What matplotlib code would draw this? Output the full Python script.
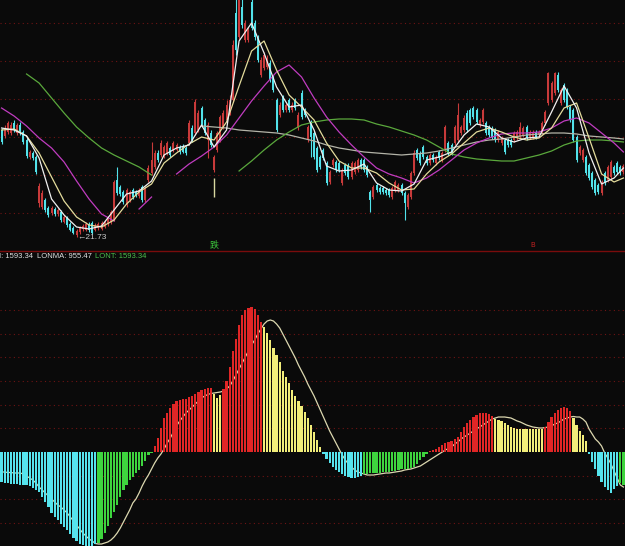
import numpy as np
import matplotlib.pyplot as plt
from matplotlib.lines import Line2D

nan = np.nan

# daily candles, 200 sessions
opens = [27.08, 26.78, 26.98, 26.93, 27.43, 26.93, 27.33, 26.98, 26.58, 25.73,
         25.93, 25.73, 23.43, 23.23, 23.58, 23.18, 22.93, 23.13, 22.88, 22.98,
         22.48, 22.68, 22.38, 22.18, 21.83, 21.98, 22.13, 22.08, 22.38, 22.43,
         22.08, 22.18, 22.13, 22.23, 22.38, 22.48, 22.58, 24.58, 24.23, 23.98,
         23.33, 23.58, 24.08, 23.98, 23.78, 24.23, 23.58, 24.58, 24.93, 25.23,
         25.93, 25.83, 25.73, 25.93, 26.18, 26.08, 26.08, 26.23, 26.28, 26.18,
         26.43, 27.18, 26.93, 27.08, 28.18, 27.58, 26.58, 26.93, 25.08, 26.08,
         26.58, 27.23, 27.58, 27.93, 28.58, 32.93, 31.73, 33.23, 31.58, 31.58,
         33.48, 32.43, 31.73, 29.83, 30.18, 30.23, 30.43, 29.73, 28.58, 27.83,
         28.73, 28.08, 28.58, 28.08, 28.58, 27.18, 28.93, 28.08, 26.58, 27.48,
         26.93, 26.18, 25.73, 26.08, 25.43, 24.48, 25.33, 25.48, 25.43, 24.43,
         25.33, 25.33, 24.73, 24.98, 25.08, 25.58, 25.58, 25.23, 23.98, 23.73,
         24.33, 24.18, 24.18, 24.08, 24.08, 23.73, 24.08, 24.08, 24.33, 23.93,
         23.23, 23.73, 24.93, 26.08, 25.93, 26.23, 25.73, 25.43, 25.83, 25.43,
         25.98, 25.58, 26.08, 26.43, 26.33, 26.43, 26.58, 26.93, 27.08, 27.93,
         28.08, 28.18, 28.08, 27.33, 27.48, 27.43, 27.23, 27.18, 27.08, 26.58,
         26.43, 26.58, 26.58, 26.58, 26.58, 26.68, 26.73, 26.83, 27.23, 26.73,
         26.73, 26.98, 26.83, 26.98, 27.43, 28.43, 28.58, 28.93, 29.83, 28.43,
         29.33, 29.08, 28.23, 28.08, 26.73, 25.93, 25.58, 25.73, 25.33, 24.93,
         24.58, 24.33, 23.93, 24.93, 24.58, 24.73, 25.23, 25.43, 25.23, 24.98]
highs = [27.18, 27.33, 27.53, 27.48, 27.58, 27.43, 27.48, 27.08, 26.68, 26.08,
         26.03, 25.83, 24.43, 24.08, 23.68, 23.28, 23.28, 23.23, 23.18, 23.08,
         22.83, 22.78, 22.48, 22.28, 22.13, 22.28, 22.38, 22.48, 22.48, 22.53,
         22.43, 22.48, 22.53, 22.58, 22.78, 23.08, 24.58, 25.23, 24.33, 24.08,
         24.18, 24.08, 24.18, 24.08, 24.18, 24.33, 24.28, 25.33, 26.48, 26.08,
         26.08, 26.58, 26.33, 26.53, 26.28, 26.53, 26.43, 26.33, 26.38, 26.28,
         27.58, 27.33, 28.63, 28.08, 28.28, 27.68, 27.48, 27.08, 25.83, 27.03,
         27.83, 28.08, 28.58, 28.83, 31.58, 34.08, 34.33, 33.83, 32.58, 32.23,
         34.08, 32.58, 31.83, 30.73, 30.98, 30.83, 30.58, 29.83, 28.68, 28.48,
         28.83, 28.43, 28.68, 28.48, 28.68, 27.98, 29.08, 28.18, 27.33, 27.58,
         27.03, 26.28, 25.83, 26.18, 25.53, 25.08, 25.68, 25.58, 25.53, 25.18,
         25.43, 25.43, 25.53, 25.53, 25.68, 25.68, 25.68, 25.33, 24.08, 24.33,
         24.43, 24.28, 24.28, 24.18, 24.18, 24.28, 24.58, 24.43, 24.43, 24.03,
         23.93, 25.03, 26.08, 26.18, 26.03, 26.33, 25.83, 25.93, 25.93, 25.83,
         26.08, 26.03, 27.33, 26.53, 26.43, 27.33, 28.43, 27.33, 27.83, 28.08,
         28.18, 28.28, 28.18, 27.68, 28.18, 27.53, 27.33, 27.28, 27.18, 27.08,
         26.78, 26.68, 26.68, 26.68, 27.03, 27.08, 27.48, 27.28, 27.33, 27.08,
         27.08, 27.08, 27.08, 27.53, 28.08, 29.98, 29.53, 29.98, 29.98, 29.18,
         29.43, 29.18, 28.33, 28.18, 26.83, 26.33, 26.18, 25.83, 25.43, 25.03,
         24.68, 24.43, 24.58, 25.03, 25.33, 25.58, 25.33, 25.53, 25.33, 25.38]
lows = [26.38, 26.68, 26.88, 26.83, 26.98, 26.83, 26.83, 26.38, 25.68, 25.63,
        25.58, 24.88, 23.23, 23.13, 22.98, 22.73, 22.83, 22.78, 22.78, 22.48,
        22.43, 22.23, 22.03, 21.88, 21.73, 21.88, 22.03, 22.03, 21.98, 21.88,
        22.03, 22.08, 22.08, 22.18, 22.28, 22.38, 22.53, 23.83, 23.78, 23.38,
        23.23, 23.48, 23.63, 23.73, 23.68, 23.48, 23.48, 24.48, 24.83, 25.13,
        25.48, 25.73, 25.68, 25.83, 25.73, 25.98, 26.03, 25.88, 25.93, 25.83,
        26.33, 26.48, 26.83, 26.98, 27.23, 26.83, 25.68, 26.23, 24.98, 25.98,
        26.48, 27.13, 27.48, 27.83, 28.48, 30.83, 31.58, 32.18, 31.48, 31.48,
        32.08, 31.58, 30.48, 29.73, 30.08, 30.13, 29.48, 28.98, 26.98, 27.73,
        27.98, 27.98, 27.98, 27.98, 28.08, 27.08, 27.63, 27.73, 26.48, 25.73,
        25.63, 24.98, 25.13, 25.58, 24.33, 24.38, 25.23, 24.98, 24.98, 24.33,
        24.83, 24.63, 24.63, 24.88, 24.98, 25.13, 24.98, 24.73, 22.98, 23.63,
        23.98, 23.88, 23.88, 23.83, 23.73, 23.63, 23.98, 23.98, 23.83, 22.58,
        23.13, 23.63, 24.83, 25.58, 25.33, 25.63, 25.33, 25.33, 25.48, 25.33,
        25.58, 25.48, 25.98, 25.83, 25.83, 26.33, 26.48, 26.83, 26.98, 26.98,
        27.33, 27.63, 27.38, 27.23, 27.38, 26.83, 26.73, 26.63, 26.48, 26.48,
        26.33, 25.88, 26.23, 26.23, 26.48, 26.58, 26.63, 26.73, 26.58, 26.63,
        26.63, 26.63, 26.73, 26.88, 27.33, 28.33, 28.48, 28.83, 28.98, 28.33,
        28.48, 28.13, 27.48, 26.48, 25.48, 25.83, 25.48, 24.83, 24.58, 24.13,
        23.83, 23.88, 23.83, 24.33, 24.48, 24.63, 24.83, 24.88, 24.83, 24.88]
closes = [26.48, 27.18, 27.43, 27.33, 27.08, 27.33, 26.93, 26.48, 25.78, 25.98,
          25.68, 24.98, 24.28, 23.93, 23.08, 22.83, 23.18, 22.88, 23.08, 22.58,
          22.73, 22.33, 22.08, 21.93, 22.03, 22.18, 22.28, 22.38, 22.08, 21.93,
          22.33, 22.38, 22.43, 22.48, 22.68, 22.98, 24.48, 23.93, 23.88, 23.48,
          24.08, 23.98, 23.73, 23.83, 24.08, 23.58, 24.18, 25.18, 25.58, 25.93,
          25.58, 26.43, 26.23, 26.43, 25.83, 26.43, 26.33, 25.98, 25.98, 25.93,
          27.43, 26.58, 28.48, 27.93, 27.33, 26.93, 27.33, 26.33, 25.73, 26.93,
          27.73, 27.93, 28.33, 28.58, 31.33, 31.08, 33.58, 32.33, 32.43, 32.08,
          32.18, 31.73, 30.58, 30.58, 30.83, 30.68, 29.58, 29.08, 27.08, 28.33,
          28.08, 28.33, 28.08, 28.33, 28.18, 27.83, 27.73, 27.83, 27.23, 26.73,
          25.73, 25.08, 25.23, 25.68, 24.43, 24.98, 25.58, 25.08, 25.08, 25.08,
          24.93, 24.73, 25.43, 25.43, 25.58, 25.23, 25.08, 24.83, 23.58, 24.23,
          24.08, 23.98, 23.98, 23.93, 23.83, 24.18, 24.48, 24.33, 23.93, 23.43,
          23.83, 24.93, 25.93, 25.68, 25.43, 25.73, 25.43, 25.83, 25.58, 25.73,
          25.68, 25.93, 27.23, 25.93, 25.93, 27.23, 27.83, 27.23, 27.68, 27.08,
          27.43, 27.73, 27.48, 27.58, 28.08, 26.93, 26.83, 26.73, 26.58, 26.98,
          26.68, 25.98, 26.33, 26.33, 26.93, 26.98, 27.23, 27.18, 26.68, 26.98,
          26.98, 26.73, 26.98, 27.43, 27.98, 29.93, 29.43, 29.93, 29.08, 29.08,
          28.58, 28.23, 27.58, 26.58, 25.58, 26.23, 26.08, 24.93, 24.68, 24.23,
          23.93, 23.98, 24.48, 24.43, 25.23, 25.48, 24.93, 24.98, 24.93, 25.28]

# moving averages read every 4th session (nan = not drawn)
ma_index = list(range(0, 200, 4)) + [199]
ma_white = [27.18, 27.08, 26.78, 25.68, 23.63, 22.83, 22.23, 22.13, 22.28, 23.08,
            23.88, 24.03, 24.53, 25.83, 26.18, 26.33, 27.33, 26.23, 27.08, 31.53,
            32.43, 30.93, 29.23, 28.23, 28.33, 27.08, 25.28, 25.03, 25.08, 25.38,
            24.43, 24.08, 24.03, 24.38, 25.58, 25.73, 25.98, 26.83, 27.38, 27.23,
            26.68, 26.48, 26.68, 26.73, 27.98, 29.28, 28.18, 25.93, 24.38, 24.68,
            25.18]
ma_yellow = [27.08, 27.13, 26.78, 25.93, 24.73, 23.53, 22.73, 22.33, 22.23, 22.58,
             23.38, 23.98, 24.38, 25.43, 25.93, 26.38, 26.73, 26.58, 27.48, 29.28,
             31.03, 31.53, 30.08, 28.83, 28.23, 27.58, 26.43, 25.53, 25.18, 25.18,
             24.93, 24.43, 24.08, 24.13, 24.88, 25.48, 25.88, 26.43, 26.98, 27.18,
             26.98, 26.73, 26.58, 26.68, 27.18, 28.18, 28.43, 26.68, 24.88, 24.48,
             24.68]
ma_magenta = [28.18, 27.78, 27.28, 26.68, 26.18, 25.48, 24.53, 23.63, 22.88, 22.53,
              nan, 23.13, 23.73, nan, 24.88, 25.38, 25.78, 26.23, 26.83, 27.68,
              28.53, 29.28, 29.98, 30.33, 29.73, 28.68, 27.73, 26.98, 26.33, 25.73,
              25.18, 24.88, 24.68, 24.43, 24.68, 25.08, 25.58, 26.08, 26.43, 26.68,
              26.88, 26.93, 26.93, 26.98, 27.18, 27.53, 27.68, 27.43, 26.93, 26.43,
              25.98]
ma_green = [nan, nan, 29.88, 29.43, 28.68, 27.93, 27.23, 26.68, 26.18, 25.83,
            25.53, 25.23, 24.83, nan, nan, nan, nan, nan, nan, 25.03,
            25.53, 26.08, 26.58, 26.98, 27.33, 27.48, 27.58, 27.63, 27.63, 27.58,
            27.38, 27.23, 27.03, 26.83, 26.58, 26.23, 25.88, 25.73, 25.63, 25.58,
            25.53, 25.53, 25.68, 25.83, 26.03, 26.33, 26.53, 26.58, 26.58, 26.53,
            26.48]
ma_grey = [nan, nan, nan, nan, nan, nan, nan, nan, nan, nan,
           nan, nan, nan, nan, nan, nan, 27.28, 27.23, 27.18, 27.08,
           27.03, 26.98, 26.93, 26.83, 26.68, 26.53, 26.33, 26.18, 26.08, 25.98,
           25.93, 25.88, 25.83, 25.88, 25.93, 26.03, 26.18, 26.33, 26.48, 26.58,
           26.63, 26.73, 26.83, 26.88, 26.93, 26.93, 26.88, 26.78, 26.73, 26.68,
           26.63]

# LON indicator (LONT histogram and LONMA signal)
lont = [-300, -305, -310, -315, -320, -323, -326, -328, -330, -340,
        -360, -380, -400, -450, -500, -550, -610, -650, -680, -720,
        -750, -780, -820, -860, -890, -920, -930, -940, -945, -950,
        -920, -910, -870, -810, -740, -660, -600, -530, -450, -380,
        -330, -280, -250, -210, -180, -140, -90, -30, -5, 60,
        140, 240, 340, 390, 440, 480, 510, 525, 530, 535,
        550, 560, 580, 605, 625, 635, 640, 645, 580, 540,
        570, 630, 710, 850, 1010, 1130, 1270, 1370, 1420, 1445,
        1450, 1430, 1370, 1300, 1250, 1190, 1120, 1040, 970, 900,
        810, 750, 690, 620, 560, 510, 460, 400, 340, 270,
        200, 120, 50, -20, -70, -110, -150, -180, -200, -220,
        -240, -250, -260, -260, -250, -240, -215, -215, -210, -210,
        -205, -205, -200, -200, -195, -190, -185, -180, -170, -170,
        -165, -160, -150, -120, -80, -50, -20, 10, 25, 35,
        50, 70, 90, 100, 110, 130, 150, 200, 250, 290,
        320, 350, 370, 390, 390, 390, 380, 360, 335, 320,
        310, 290, 270, 250, 240, 230, 230, 235, 235, 235,
        235, 235, 230, 230, 250, 300, 350, 390, 420, 440,
        450, 440, 410, 345, 270, 210, 170, 110, -20, -100,
        -170, -240, -300, -350, -380, -410, -370, -340, -310, -330]
lonma = [-200, -200, -205, -205, -210, -210, -210, -220, -240, -260,
         -280, -310, -350, -380, -410, -440, -470, -500, -530, -550,
         -580, -610, -650, -690, -730, -770, -810, -840, -870, -890,
         -915, -920, -920, -910, -900, -880, -850, -810, -760, -700,
         -640, -580, -510, -470, -410, -340, -280, -230, -170, -110,
         -60, -20, 30, 90, 140, 200, 260, 310, 350, 390,
         420, 450, 480, 510, 540, 560, 575, 585, 590, 595,
         600, 610, 630, 660, 710, 770, 830, 890, 950, 1010,
         1070, 1120, 1180, 1230, 1280, 1310, 1320, 1310, 1280, 1240,
         1180, 1120, 1060, 1000, 940, 870, 810, 750, 680, 620,
         560, 490, 420, 350, 280, 210, 150, 90, 30, -30,
         -80, -120, -150, -180, -200, -210, -220, -230, -230, -230,
         -225, -220, -215, -210, -210, -205, -200, -195, -190, -180,
         -175, -170, -160, -150, -140, -120, -100, -80, -60, -40,
         -20, 0, 20, 35, 50, 80, 100, 130, 150, 170,
         190, 210, 230, 250, 270, 290, 310, 330, 340, 350,
         350, 350, 345, 340, 325, 310, 300, 285, 270, 260,
         250, 245, 240, 240, 245, 250, 260, 280, 290, 310,
         330, 340, 350, 355, 350, 350, 330, 300, 230, 180,
         130, 100, 60, -10, -60, -120, -190, -260, -330, -350]

bg = '#0a0a0a'
up_col = '#c83a3a'
down_col = '#52e2ea'
grid_col = '#6e1414'

o = np.array(opens)
h = np.array(highs)
l = np.array(lows)
c = np.array(closes)
idx = np.arange(len(o))

fig = plt.figure(figsize=(6.25, 5.46), dpi=100, facecolor=bg)
ax = fig.add_axes([0, 1 - 251 / 546, 1, 251 / 546])
ax2 = fig.add_axes([0, 0, 1, 293 / 546])

# price panel
ax.set_xlim(-0.5, len(o) - 0.5)
ax.set_ylim(21.03, 33.58)
ax.set_axis_off()
for g in np.arange(22.93, 33.0, 1.9):
    ax.axhline(g, color=grid_col, lw=0.8, ls=(0, (1, 3)), zorder=0)

cols = np.where(c >= o, up_col, down_col)
ax.vlines(idx, l, h, colors=cols, lw=0.8, zorder=2)
ax.bar(idx, np.maximum(np.abs(c - o), 0.04), bottom=np.minimum(o, c),
       width=0.66, color=cols, linewidth=0, zorder=3)

ax.plot(ma_index, ma_grey, color='#b4b4a8', lw=0.9, zorder=4)
ax.plot(ma_index, ma_green, color='#5aa83c', lw=0.9, zorder=4)
ax.plot(ma_index, ma_magenta, color='#c03cc0', lw=0.9, zorder=4)
ax.plot(ma_index, ma_yellow, color='#e4dc9c', lw=0.9, zorder=5)
ax.plot(ma_index, ma_white, color='#f0f0f0', lw=0.9, zorder=5)

# markers under the price chart
ax.text(24.1, 21.68, '\u219021.73', color='#c8c8c8', fontsize=6, ha='left', va='center',
        family=['Liberation Sans', 'DejaVu Sans'])
ax.vlines(68, 23.73, 24.68, color='#d8d8a0', lw=1, zorder=4)
ax.text(68, 21.33, '跌', color='#3cc83c', fontsize=6.5, ha='center', va='center',
        family=['Noto Sans CJK SC', 'DejaVu Sans'])
ax.text(170.1, 21.33, 'B', color='#c02020', fontsize=5, ha='center', va='center')

fig.add_artist(Line2D([0, 1], [1 - 251 / 546] * 2, color='#7a0c0c', lw=1))

# indicator panel
ax2.set_xlim(-0.5, len(o) - 0.5)
ax2.set_ylim(-940, 1990)
ax2.set_axis_off()
for g in np.arange(-711, 1500, 237):
    if g != 0:
        ax2.axhline(g, color=grid_col, lw=0.8, ls=(0, (1, 3)), zorder=0)

hist = np.array(lont)
sig = np.array(lonma)
bar_cols = np.where(hist >= 0,
                    np.where(hist >= sig, '#e02626', '#f2ee7a'),
                    np.where(hist < sig, '#56e4ee', '#3ed43e'))
ax2.plot(idx, sig, color='#dcd8b0', lw=0.9, zorder=2)
ax2.bar(idx, hist, width=0.7, color=bar_cols, linewidth=0, zorder=3)

ty = 1 - 256 / 546
fig.text(-0.002, ty, 'I: 1593.34', color='#e0e0e0', fontsize=5.5, va='center',
         family='Liberation Sans')
fig.text(37 / 625, ty, 'LONMA: 955.47', color='#e0e0e0', fontsize=5.5, va='center',
         family='Liberation Sans')
fig.text(95 / 625, ty, 'LONT: 1593.34', color='#4cc04c', fontsize=5.5, va='center',
         family='Liberation Sans')

plt.savefig('out.png', dpi=100, facecolor=bg)
